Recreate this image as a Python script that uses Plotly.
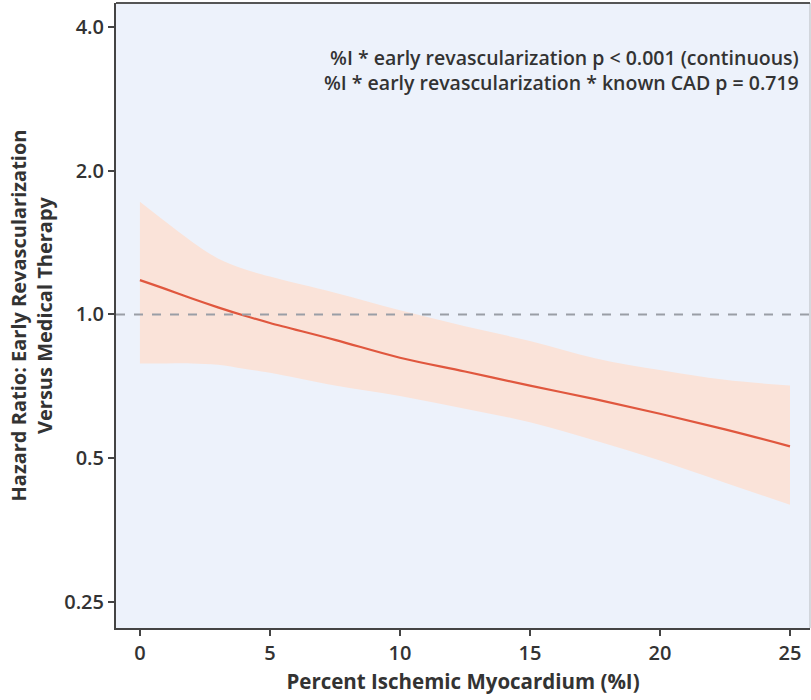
import plotly.graph_objects as go

pct_ischemia = [0, 1, 2, 3, 4, 5, 7.5, 10, 12.5, 15, 17.5, 20, 22.5, 25]
hr = [1.18, 1.13, 1.08, 1.035, 0.995, 0.96, 0.885, 0.812, 0.76, 0.71, 0.665, 0.62, 0.575, 0.53]
hr_upper = [1.72, 1.56, 1.42, 1.31, 1.245, 1.20, 1.11, 1.02, 0.945, 0.88, 0.81, 0.765, 0.73, 0.71]
hr_lower = [0.79, 0.79, 0.79, 0.785, 0.77, 0.755, 0.71, 0.675, 0.635, 0.595, 0.545, 0.495, 0.445, 0.40]
x_ticks = [0, 5, 10, 15, 20, 25]
y_ticks = [0.25, 0.5, 1.0, 2.0, 4.0]
y_tick_labels = ["0.25", "0.5", "1.0", "2.0", "4.0"]
annotation_lines = [
    "%I * early revascularization p < 0.001 (continuous)",
    "%I * early revascularization * known CAD p = 0.719",
]

FONT = "Open Sans"
TXT = "#333333"

fig = go.Figure()
fig.add_trace(go.Scatter(x=pct_ischemia, y=hr_upper, mode="lines", line=dict(width=0, shape="spline"),
                         hoverinfo="skip", showlegend=False))
fig.add_trace(go.Scatter(x=pct_ischemia, y=hr_lower, mode="lines", line=dict(width=0, shape="spline"),
                         fill="tonexty", fillcolor="#FAE3D9", hoverinfo="skip", showlegend=False))
fig.add_hline(y=1.0, line=dict(color="#9a9ea6", width=2, dash="dash"))
fig.add_trace(go.Scatter(x=pct_ischemia, y=hr, mode="lines", line=dict(color="#E0573E", width=2.2, shape="spline"),
                         showlegend=False))

fig.add_annotation(xref="paper", yref="paper", x=0.987, y=0.937, xanchor="right", yanchor="top",
                   text="<br>".join(annotation_lines), showarrow=False, align="right",
                   font=dict(family=FONT, size=19.5, color=TXT, weight=600))

fig.add_shape(type="line", xref="paper", yref="paper", x0=1, x1=1, y0=0, y1=1,
              line=dict(color="#c8ccd2", width=1.5))

fig.update_xaxes(range=[-0.92, 25.77], tickvals=x_ticks, ticks="outside", ticklen=6, tickwidth=2,
                 tickcolor="#444", showline=True, linecolor="#444", linewidth=2, mirror=False,
                 showgrid=False, zeroline=False,
                 tickfont=dict(family=FONT, size=20, color=TXT, weight=600),
                 title=dict(text="<b>Percent Ischemic Myocardium (%I)</b>", standoff=10,
                            font=dict(family=FONT, size=20.5, color=TXT)))
fig.update_yaxes(type="log", range=[-0.6556, 0.6513], tickvals=y_ticks, ticktext=y_tick_labels,
                 ticks="outside", ticklen=6, tickwidth=2, tickcolor="#444", showline=True,
                 linecolor="#444", linewidth=2, showgrid=False, zeroline=False,
                 tickfont=dict(family=FONT, size=20, color=TXT, weight=600),
                 title=dict(text="<b>Hazard Ratio: Early Revascularization<br>Versus Medical Therapy</b>",
                            standoff=6, font=dict(family=FONT, size=20, color=TXT)))
fig.add_shape(type="line", xref="paper", yref="paper", x0=0, x1=1, y0=1, y1=1,
              line=dict(color="#555", width=2))

fig.update_layout(width=811, height=700, margin=dict(l=116, r=1, t=3, b=72),
                  plot_bgcolor="#EDF2FB", paper_bgcolor="white", showlegend=False)

fig.write_html("out.html")
